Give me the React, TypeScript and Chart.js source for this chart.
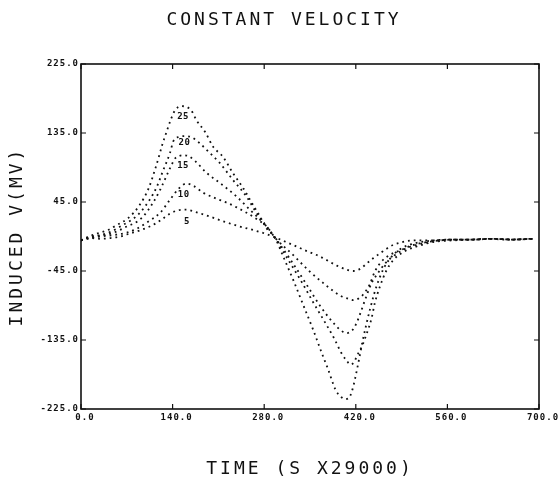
import React, { useEffect, useRef } from "react";
import { Chart, registerables } from "chart.js";

Chart.register(...registerables);

const TITLE = "CONSTANT VELOCITY";
const X_TITLE = "TIME (S X29000)";
const Y_TITLE = "INDUCED V(MV)";
const X_TICKS = [0, 140, 280, 420, 560, 700];
const Y_TICKS = [-225, -135, -45, 45, 135, 225];
const SERIES_NAMES = ["5", "10", "15", "20", "25"];

const time5 = [0, 15, 30, 45, 60, 75, 90, 105, 116, 128, 136, 148, 161, 175, 197, 220, 243, 265, 284, 296, 324, 345, 365, 391, 405, 416, 427, 437, 447, 457, 467, 477, 488, 498, 515, 540, 570, 600, 630, 660, 692];
const volt5 = [-5, -2, -3, -2, 0, 4, 8, 13, 18, 25, 30, 34, 35, 32, 26, 19, 13, 8, 3, -1, -11, -19, -26, -38, -43, -45, -42, -35, -28, -22, -16, -11, -8, -6, -5, -5, -4, -4, -3, -4, -3];

const time10 = [0, 15, 30, 50, 70, 85, 100, 121, 136, 150, 161, 172, 187, 205, 223, 238, 253, 270, 284, 296, 324, 350, 375, 396, 408, 416, 424, 431, 441, 449, 459, 472, 488, 508, 540, 570, 600, 630, 660, 690];
const volt10 = [-5, -2, 0, 2, 5, 10, 18, 31, 48, 63, 69, 66, 57, 50, 44, 38, 31, 22, 13, -1, -24, -46, -64, -77, -81, -83, -81, -76, -63, -46, -33, -24, -18, -11, -6, -4, -4, -3, -4, -3];

const time15 = [0, 15, 30, 50, 70, 85, 95, 110, 121, 128, 136, 144, 150, 158, 166, 175, 192, 212, 238, 258, 278, 296, 320, 345, 365, 385, 398, 406, 414, 420, 427, 434, 444, 452, 465, 480, 498, 513, 540, 570, 600, 630, 660, 690];
const volt15 = [-5, -1, 1, 5, 13, 19, 26, 44, 61, 74, 89, 102, 105, 106, 104, 98, 83, 70, 52, 35, 18, -1, -30, -63, -90, -112, -123, -126, -123, -115, -100, -83, -61, -50, -35, -24, -15, -11, -6, -4, -4, -3, -4, -3];

const time20 = [0, 15, 30, 45, 64, 78, 90, 105, 116, 125, 136, 141, 150, 160, 170, 181, 192, 212, 232, 253, 268, 284, 296, 315, 335, 355, 375, 387, 398, 406, 412, 418, 421, 429, 437, 444, 449, 457, 467, 477, 493, 513, 540, 570, 600, 630, 660, 692];
const volt20 = [-5, 0, 2, 6, 15, 22, 31, 48, 65, 85, 109, 124, 130, 131, 129, 122, 113, 96, 74, 52, 31, 13, -1, -28, -56, -86, -115, -133, -152, -162, -167, -163, -157, -144, -126, -107, -87, -65, -44, -31, -20, -13, -7, -5, -4, -3, -4, -3];

const time25 = [0, 12, 25, 40, 55, 72, 88, 103, 113, 119, 125, 131, 137, 144, 154, 168, 177, 190, 202, 217, 232, 248, 261, 275, 284, 296, 310, 325, 340, 355, 368, 378, 389, 396, 403, 409, 414, 419, 425, 430, 436, 442, 448, 455, 463, 473, 487, 505, 530, 560, 590, 620, 650, 690];
const volt25 = [-5, 0, 4, 8, 15, 24, 39, 62, 87, 104, 122, 137, 152, 165, 170, 165, 151, 136, 117, 104, 83, 63, 44, 24, 10, -1, -28, -58, -90, -122, -152, -174, -200, -208, -212, -211, -202, -185, -160, -138, -115, -94, -75, -57, -41, -28, -17, -10, -6, -4, -4, -3, -4, -3];

const SERIES_TIMES = [time5, time10, time15, time20, time25];
const SERIES_VOLTS = [volt5, volt10, volt15, volt20, volt25];

// curve label anchors, in data units (time, mV)
const LABEL_TIMES = [162, 157, 156, 158, 156];
const LABEL_VOLTS = [19, 55, 92, 122, 156];

const MONO = "'DejaVu Sans Mono', 'Liberation Mono', monospace";

const plotterPlugin = {
  id: "plotter",
  beforeDraw(chart: any) {
    chart.ctx.letterSpacing = "3px";
  },
  beforeDatasetsDraw(chart: any) {
    chart.ctx.letterSpacing = "1px";
  },
  afterDraw(chart: any) {
    const { ctx, chartArea: a, scales } = chart;
    ctx.save();
    ctx.strokeStyle = "#111";
    ctx.lineWidth = 1.6;
    ctx.strokeRect(a.left, a.top, a.right - a.left, a.bottom - a.top);
    ctx.lineWidth = 1.2;
    const L = 5;
    ctx.beginPath();
    for (const v of X_TICKS) {
      const px = scales.x.getPixelForValue(v);
      ctx.moveTo(px, a.bottom);
      ctx.lineTo(px, a.bottom - L);
      ctx.moveTo(px, a.top);
      ctx.lineTo(px, a.top + L);
    }
    for (const v of Y_TICKS) {
      const py = scales.y.getPixelForValue(v);
      ctx.moveTo(a.left, py);
      ctx.lineTo(a.left + L, py);
      ctx.moveTo(a.right, py);
      ctx.lineTo(a.right - L, py);
    }
    ctx.stroke();
    ctx.font = `bold 9px ${MONO}`;
    ctx.fillStyle = "#111";
    ctx.textAlign = "center";
    ctx.textBaseline = "middle";
    ctx.letterSpacing = "0.5px";
    SERIES_NAMES.forEach((n, i) => {
      ctx.fillText(
        n,
        scales.x.getPixelForValue(LABEL_TIMES[i]),
        scales.y.getPixelForValue(LABEL_VOLTS[i])
      );
    });
    ctx.restore();
  },
};

export default function App() {
  const ref = useRef<HTMLCanvasElement | null>(null);

  useEffect(() => {
    if (!ref.current) return;
    const datasets = SERIES_NAMES.map((name, i) => ({
      label: name,
      data: SERIES_TIMES[i].map((t, j) => ({ x: t, y: SERIES_VOLTS[i][j] })),
      borderColor: "#111",
      borderWidth: 1.8,
      borderDash: [1.8, 4],
      borderCapStyle: "butt" as const,
      pointRadius: 0,
      fill: false,
      cubicInterpolationMode: "monotone" as const,
    }));

    const chart = new Chart(ref.current, {
      type: "line",
      data: { datasets },
      plugins: [plotterPlugin],
      options: {
        animation: false,
        responsive: false,
        devicePixelRatio: 1,
        layout: { padding: { left: 29, right: 19, top: 0, bottom: 0 } },
        plugins: {
          legend: { display: false },
          tooltip: { enabled: false },
          title: {
            display: true,
            text: TITLE,
            color: "#111",
            font: { family: MONO, size: 18, weight: "normal", lineHeight: 1.2 },
            padding: { top: 10, bottom: 32.4 },
          },
        },
        scales: {
          x: {
            type: "linear",
            min: 0,
            max: 700,
            afterBuildTicks: (s: any) => {
              s.ticks = X_TICKS.map((v) => ({ value: v }));
            },
            afterFit: (s: any) => {
              s.height = 73;
              s.paddingLeft = 0;
              s.paddingRight = 0;
              s.paddingTop = 0;
              s.paddingBottom = 0;
            },
            grid: { display: false, drawTicks: false },
            border: { display: false },
            ticks: {
              autoSkip: false,
              maxRotation: 0,
              padding: 3,
              labelOffset: 4,
              color: "#111",
              z: 1,
              font: { family: MONO, size: 9, weight: "bold" },
              callback: (v: any) => Number(v).toFixed(1),
            },
            title: {
              display: true,
              text: X_TITLE,
              color: "#111",
              font: { family: MONO, size: 18, weight: "normal", lineHeight: 1 },
              padding: { top: 0, bottom: 4 },
            },
          },
          y: {
            type: "linear",
            position: "left",
            min: -225,
            max: 225,
            afterBuildTicks: (s: any) => {
              s.ticks = Y_TICKS.map((v) => ({ value: v }));
            },
            afterFit: (s: any) => {
              s.width = 52;
              s.paddingLeft = 0;
              s.paddingRight = 0;
              s.paddingTop = 0;
              s.paddingBottom = 0;
            },
            grid: { display: false, drawTicks: false },
            border: { display: false },
            ticks: {
              autoSkip: false,
              padding: 2,
              color: "#111",
              z: 1,
              font: { family: MONO, size: 9, weight: "bold" },
              callback: (v: any) => Number(v).toFixed(1),
            },
            title: {
              display: true,
              text: Y_TITLE,
              color: "#111",
              font: { family: MONO, size: 18, weight: "normal", lineHeight: 1 },
              padding: { top: -21, bottom: 0 },
            },
          },
        },
      },
    } as any);
    return () => chart.destroy();
  }, []);

  return (
    <div style={{ position: "fixed", left: 0, top: 0, width: 558, height: 482, background: "#fff" }}>
      <canvas ref={ref} width={558} height={482} style={{ display: "block" }} />
    </div>
  );
}
